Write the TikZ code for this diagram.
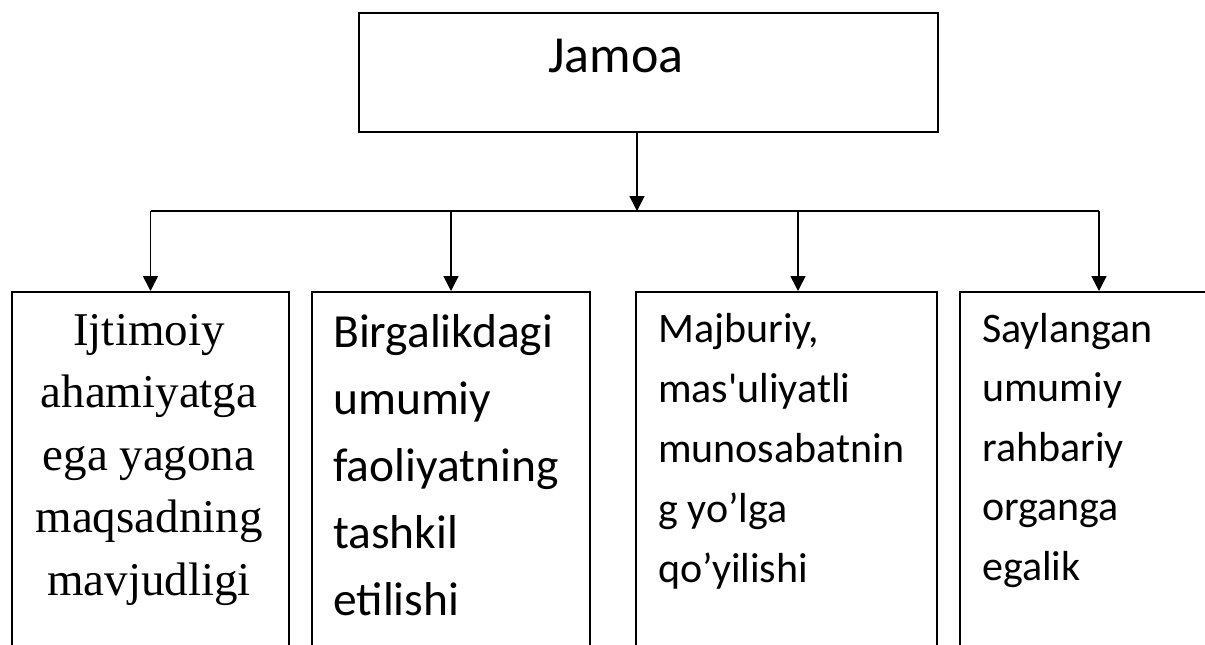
\documentclass[tikz,border=0pt]{standalone}
\usepackage{fontspec}
\newfontfamily\carlito[Ligatures=TeXOff]{Carlito}
\newfontfamily\timesf{Liberation Serif}
\usetikzlibrary{arrows.meta}
\begin{document}
\begin{tikzpicture}[x=1pt,y=-1pt,
  boxst/.style={draw,line width=1.6pt,inner sep=0pt},
  conn/.style={line width=1.6pt},
  arr/.style={line width=1.6pt,-{Triangle[length=15pt,width=15pt]}},
  txt/.style={inner sep=0pt}]
\useasboundingbox (0,0) rectangle (1205,645);
\clip (0,0) rectangle (1205,645);
\fill[white] (0,0) rectangle (1205,645);
% boxes
\node[boxst,anchor=north west,minimum width=579pt,minimum height=119pt] (top) at (358,12) {};
\node[boxst,anchor=north,minimum width=277pt,minimum height=420pt] (b1) at (150.5,291) {};
\node[boxst,anchor=north,minimum width=278pt,minimum height=420pt] (b2) at (451,291) {};
\node[boxst,anchor=north,minimum width=301pt,minimum height=420pt] (b3) at (786.5,291) {};
\node[boxst,anchor=north,minimum width=278pt,minimum height=420pt] (b4) at (1099,291) {};
% texts (anchor = baseline of last line)
\node[txt,anchor=base west,font=\carlito\fontsize{52}{62}\selectfont] (t0) at (548,72) {Jamoa};
\node[txt,anchor=base,align=center,font=\timesf\fontsize{47}{62.5}\selectfont] (t1) at (149,595)
  {Ijtimoiy\\ahamiyatga\\ega yagona\\maqsadning\\mavjudligi};
\node[txt,anchor=base west,align=left,font=\carlito\fontsize{47.5}{67}\selectfont] (t2) at (333,615)
  {Birgalikdagi\\umumiy\\faoliyatning\\tashkil\\etilishi};
\node[txt,anchor=base west,align=left,font=\carlito\fontsize{42}{60}\selectfont] (t3) at (658,582)
  {Majburiy,\\mas'uliyatli\\munosabatnin\\g yo’lga\\qo’yilishi};
\node[txt,anchor=base west,align=left,font=\carlito\fontsize{42}{59.5}\selectfont] (t4) at (982,580)
  {Saylangan\\umumiy\\rahbariy\\organga\\egalik};
% connectors
\coordinate (hub) at (637,211);
\draw[arr] (top.south -| hub) -- (hub);
\draw[conn] (b1.north |- hub) -- (b4.north |- hub);
\draw[arr] (b1.north |- hub) -- (b1.north);
\draw[arr] (b2.north |- hub) -- (b2.north);
\draw[arr] ([xshift=11.5pt]b3.north |- hub) -- ([xshift=11.5pt]b3.north);
\draw[arr] (b4.north |- hub) -- (b4.north);
\end{tikzpicture}
\end{document}
